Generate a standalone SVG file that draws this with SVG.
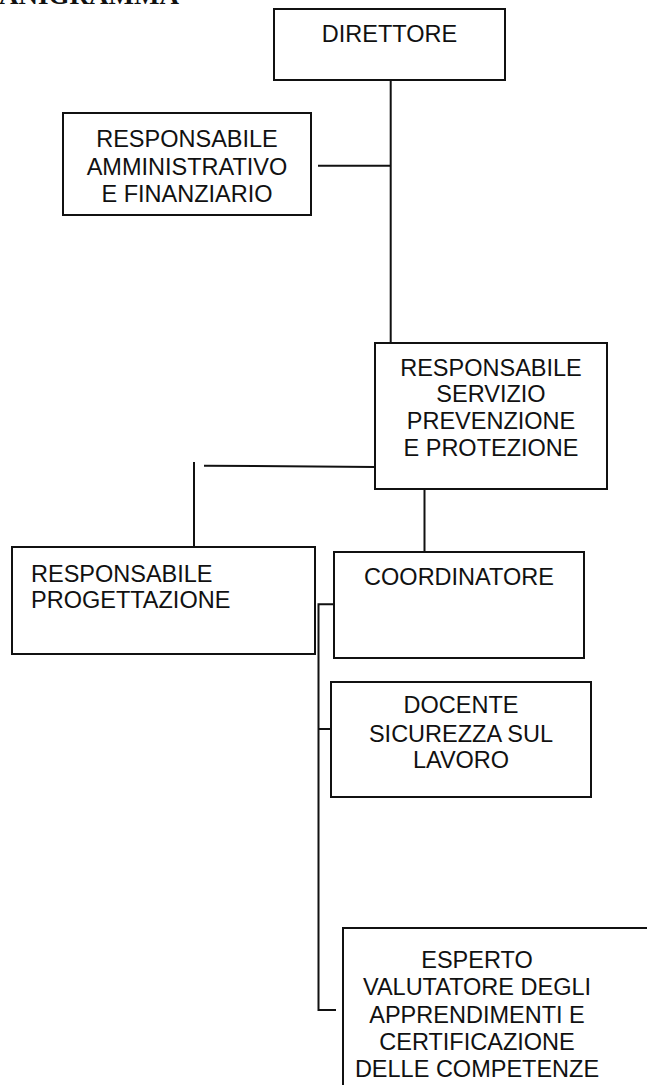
<svg xmlns="http://www.w3.org/2000/svg" width="647" height="1085" viewBox="0 0 647 1085">
<style>
.box{fill:#fff;stroke:#111;stroke-width:2}
.ln{fill:none;stroke:#111;stroke-width:2}
.t{font-family:"Liberation Sans",Arial,sans-serif;font-size:23.5px;fill:#111;text-anchor:middle}
.tl{font-family:"Liberation Sans",Arial,sans-serif;font-size:23.5px;fill:#111}
.title{font-family:"Liberation Serif","Times New Roman",serif;font-size:27px;font-weight:bold;fill:#111}
</style>
<rect width="647" height="1085" fill="#fff"/>
<text class="title" x="-1" y="4">ANIGRAMMA</text>
<g id="connectors">
<path class="ln" d="M390.7 80 V343"/>
<path class="ln" d="M318 165.7 H390.7"/>
<path class="ln" d="M204 465.7 L375 467"/>
<path class="ln" d="M194 462 V547"/>
<path class="ln" d="M424.5 489 V552"/>
<path class="ln" d="M334 604.3 H318.5 V1010 H336"/>
<path class="ln" d="M318.5 729 H331"/>
</g>
<g id="direttore">
<rect class="box" x="274" y="9" width="231" height="71"/>
<text class="t" x="389.5" y="42">DIRETTORE</text>
</g>
<g id="resp-amministrativo">
<rect class="box" x="63" y="113" width="248" height="102"/>
<text class="t" x="187" y="146.5">RESPONSABILE</text>
<text class="t" x="187" y="174.5">AMMINISTRATIVO</text>
<text class="t" x="187" y="201.5">E FINANZIARIO</text>
</g>
<g id="resp-spp">
<rect class="box" x="375" y="343" width="232" height="146"/>
<text class="t" x="491" y="375.5">RESPONSABILE</text>
<text class="t" x="491" y="402">SERVIZIO</text>
<text class="t" x="491" y="429">PREVENZIONE</text>
<text class="t" x="491" y="456">E PROTEZIONE</text>
</g>
<g id="resp-progettazione">
<rect class="box" x="12" y="547" width="303" height="107"/>
<text class="tl" x="31" y="581.5">RESPONSABILE</text>
<text class="tl" x="31" y="607.5">PROGETTAZIONE</text>
</g>
<g id="coordinatore">
<rect class="box" x="334" y="552" width="250" height="106"/>
<text class="t" x="459" y="585">COORDINATORE</text>
</g>
<g id="docente">
<rect class="box" x="331" y="682" width="260" height="115"/>
<text class="t" x="461" y="713">DOCENTE</text>
<text class="t" x="461" y="741.5">SICUREZZA SUL</text>
<text class="t" x="461" y="768">LAVORO</text>
</g>
<g id="esperto">
<path class="box" d="M343 1090 V928 H650"/>
<text class="t" x="477" y="968">ESPERTO</text>
<text class="t" x="477" y="995">VALUTATORE DEGLI</text>
<text class="t" x="477" y="1022.5">APPRENDIMENTI E</text>
<text class="t" x="477" y="1050">CERTIFICAZIONE</text>
<text class="t" x="477" y="1077">DELLE COMPETENZE</text>
</g>
</svg>
